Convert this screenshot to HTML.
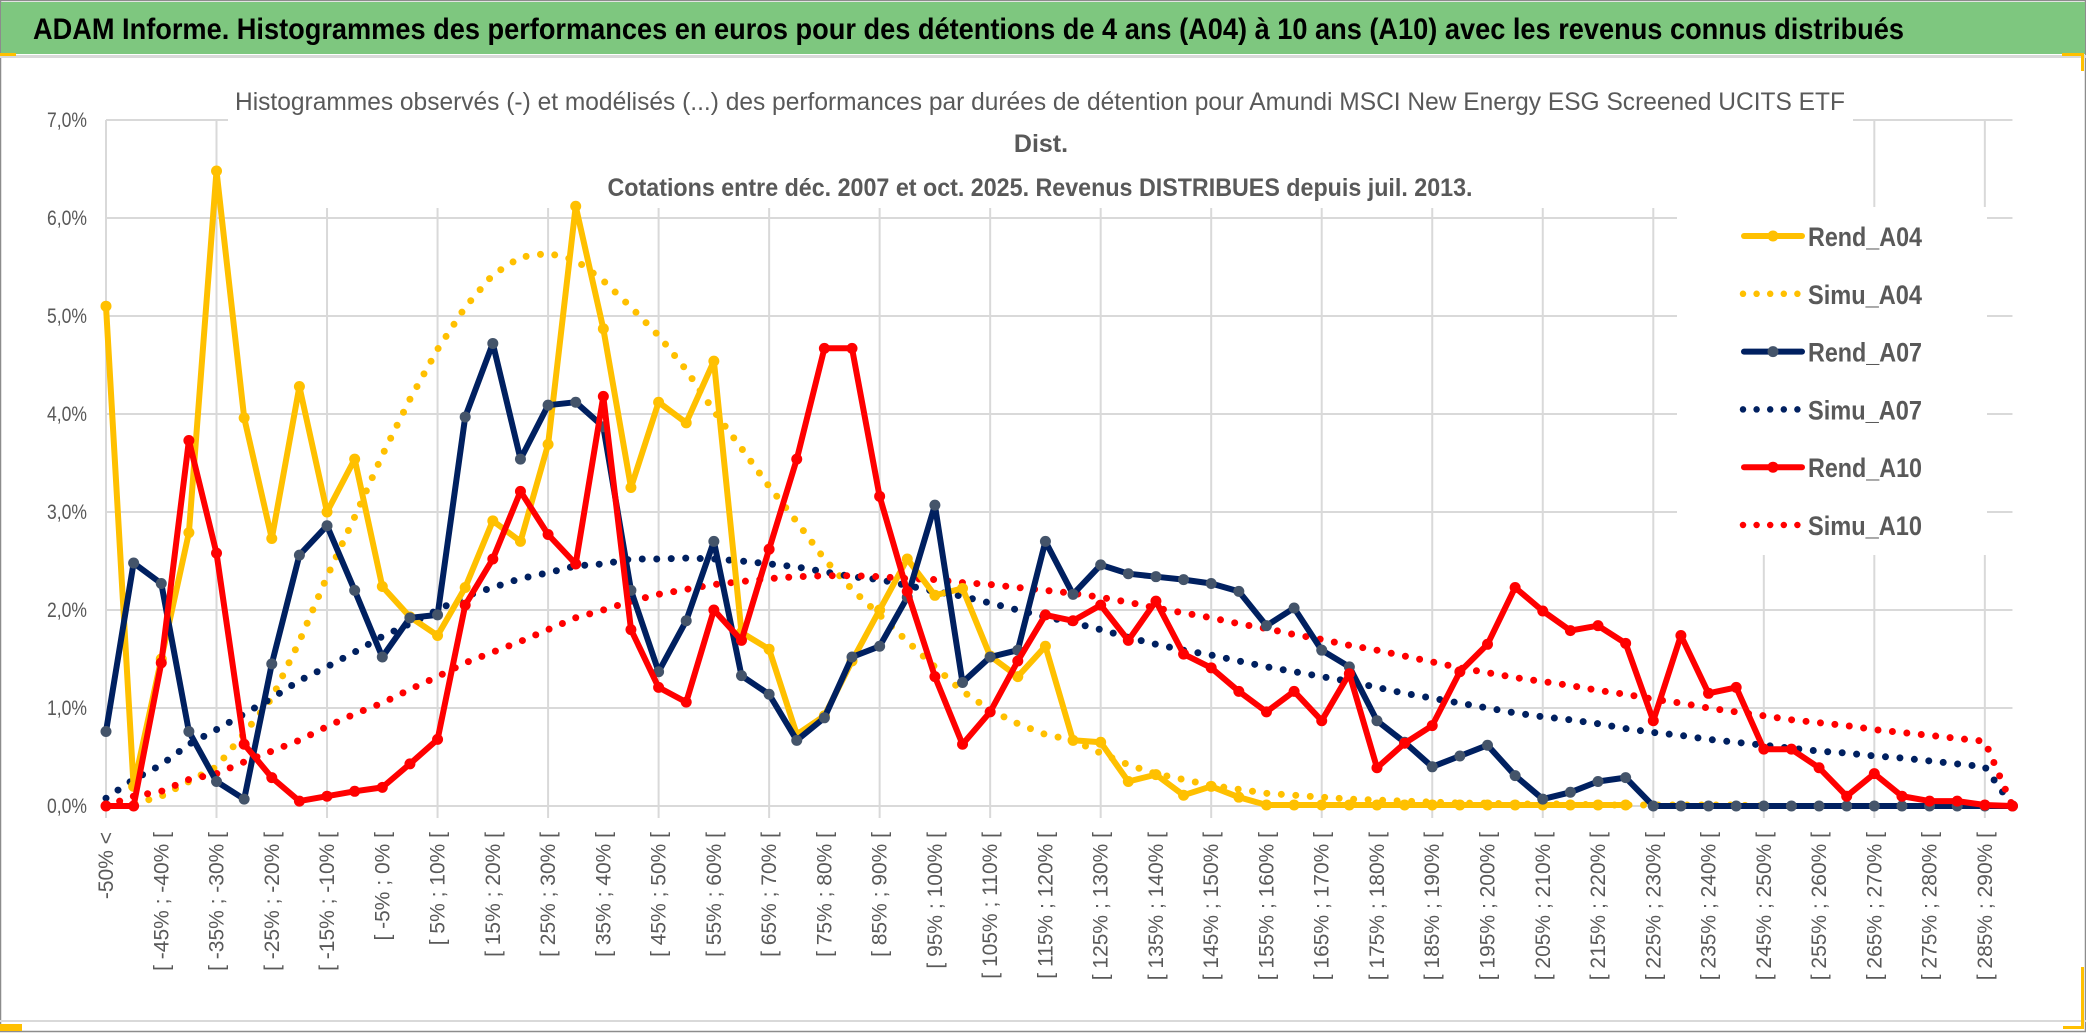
<!DOCTYPE html>
<html><head><meta charset="utf-8"><style>
html,body{margin:0;padding:0;background:#fff;}
svg{display:block;}
text{font-family:"Liberation Sans",sans-serif;}
</style></head><body>
<svg id="chart" width="2086" height="1033" viewBox="0 0 2086 1033" xmlns="http://www.w3.org/2000/svg">
  <rect x="0" y="0" width="2086" height="1033" fill="#ffffff"/>
  <rect x="0.5" y="0.5" width="2085" height="1031" fill="none" stroke="#8c8c8c" stroke-width="1.5"/>
  <rect x="1" y="2" width="2084" height="52" fill="#7ec77f"/>
  <text x="33" y="39" font-size="30" font-weight="bold" fill="#000" textLength="1871" lengthAdjust="spacingAndGlyphs">ADAM Informe. Histogrammes des performances en euros pour des détentions de 4 ans (A04) à 10 ans (A10) avec les revenus connus distribués</text>
  <rect x="0" y="55" width="2086" height="3" fill="#d9d9d9"/>
  <rect x="0" y="53" width="16" height="3" fill="#ffc000"/>
  <rect x="2062" y="53" width="22" height="3" fill="#ffc000"/>
  <rect x="2081" y="53" width="3" height="18" fill="#ffc000"/>
  <rect x="0" y="1020" width="2086" height="2" fill="#d9d9d9"/>
  <rect x="0" y="1024" width="22" height="7" fill="#ffc000"/>
  <rect x="2081" y="967" width="3" height="62" fill="#ffc000"/>
  <rect x="2063" y="1026" width="21" height="3" fill="#ffc000"/>
  <g id="grid"></g>
  <rect x="228" y="60" width="1625" height="148" fill="#ffffff"/>
  <rect x="1677" y="207" width="310" height="348" fill="#ffffff"/>
  <text x="1040" y="110" font-size="25" fill="#595959" text-anchor="middle" textLength="1610" lengthAdjust="spacingAndGlyphs">Histogrammes observés (-) et modélisés (...) des performances par durées de détention pour Amundi MSCI New Energy ESG Screened UCITS ETF</text>
  <text x="1041" y="152" font-size="25" fill="#595959" text-anchor="middle" font-weight="bold">Dist.</text>
  <text x="1040" y="196" font-size="25" fill="#595959" text-anchor="middle" font-weight="bold" textLength="865" lengthAdjust="spacingAndGlyphs">Cotations entre déc. 2007 et oct. 2025. Revenus DISTRIBUES depuis juil. 2013.</text>
  <g id="yaxis"></g>
  <g id="xaxis"></g>
  <g id="series"></g>
  <g id="legend"></g>
</svg>
<script>
const yTicks = [0,1,2,3,4,5,6,7];
const yTickLabels = ["0,0%","1,0%","2,0%","3,0%","4,0%","5,0%","6,0%","7,0%"];
const categories = ["-50% <"];
for (let k = 1; k < 70; k++) { categories.push("[ " + (-55 + 5*k) + "% ; " + (-50 + 5*k) + "% ["); }

const rendA04 = [5.10,0.20,1.50,2.79,6.48,3.96,2.73,4.28,3.00,3.54,2.24,1.93,1.74,2.23,2.91,2.70,3.69,6.12,
 4.87,3.25,4.12,3.91,4.54,1.77,1.60,0.73,0.92,1.48,2.00,2.52,2.15,2.22,1.53,1.32,1.63,0.67,
 0.65,0.25,0.32,0.11,0.20,0.09,0.01,0.01,0.01,0.01,0.01,0.01,0.01,0.01,0.01,0.01,0.01,0.01,0.01,0.01];
const simuA04 = [0.00,0.02,0.10,0.25,0.40,0.74,1.10,1.68,2.34,2.95,3.58,4.15,4.66,5.09,5.42,5.60,5.64,5.57,
 5.36,5.09,4.80,4.45,4.03,3.65,3.26,2.90,2.52,2.21,1.95,1.68,1.42,1.17,0.98,0.84,0.73,0.67,
 0.54,0.42,0.33,0.27,0.21,0.17,0.13,0.11,0.09,0.07,0.06,0.05,0.04,0.03,0.03,0.02,0.02,0.02,0.01,0.01,0.01,0.01,0.01,0.01,0.00];
const rendA07 = [0.76,2.48,2.27,0.76,0.25,0.07,1.45,2.56,2.86,2.20,1.52,1.92,1.95,3.97,4.72,3.54,4.09,4.12,
 3.87,2.20,1.37,1.89,2.70,1.33,1.14,0.67,0.90,1.52,1.63,2.13,3.07,1.26,1.52,1.59,2.70,2.16,
 2.46,2.37,2.34,2.31,2.27,2.19,1.84,2.02,1.59,1.42,0.87,0.65,0.40,0.51,0.62,0.31,0.07,0.14,0.25,0.29,
 0,0,0,0,0,0,0,0,0,0,0,0,0,0];
const simuA07 = [0.08,0.27,0.42,0.63,0.78,0.94,1.10,1.28,1.42,1.57,1.73,1.86,2.00,2.14,2.23,2.32,2.38,2.45,
 2.47,2.52,2.52,2.53,2.52,2.50,2.47,2.44,2.39,2.34,2.31,2.25,2.19,2.14,2.07,2.00,1.93,1.87,
 1.80,1.72,1.65,1.59,1.54,1.48,1.42,1.37,1.32,1.27,1.21,1.15,1.10,1.05,1.00,0.95,0.91,0.88,0.84,0.79,
 0.75,0.72,0.68,0.65,0.62,0.59,0.56,0.54,0.51,0.49,0.46,0.43,0.40,0.00];
const rendA10 = [0,0,1.46,3.73,2.58,0.63,0.29,0.05,0.10,0.15,0.19,0.43,0.68,2.05,2.52,3.21,2.77,2.47,
 4.18,1.80,1.21,1.06,2.00,1.69,2.62,3.54,4.67,4.67,3.16,2.19,1.32,0.63,0.96,1.48,1.95,1.89,
 2.05,1.69,2.09,1.55,1.41,1.17,0.96,1.17,0.87,1.35,0.39,0.64,0.82,1.37,1.65,2.23,1.99,1.79,1.84,1.66,
 0.87,1.74,1.15,1.21,0.58,0.58,0.39,0.10,0.33,0.10,0.05,0.05,0.01,0.00];
const simuA10 = [0.00,0.10,0.15,0.27,0.33,0.45,0.56,0.67,0.81,0.94,1.05,1.19,1.32,1.46,1.57,1.68,1.80,1.92,
 2.00,2.09,2.16,2.21,2.26,2.29,2.32,2.34,2.35,2.35,2.34,2.32,2.31,2.28,2.26,2.23,2.20,2.17,
 2.13,2.08,2.02,1.97,1.92,1.86,1.81,1.75,1.70,1.64,1.59,1.53,1.47,1.41,1.36,1.31,1.27,1.23,1.18,1.14,
 1.09,1.05,1.00,0.96,0.92,0.88,0.85,0.82,0.78,0.75,0.72,0.69,0.66,0.00];

const NS = "http://www.w3.org/2000/svg";
const X0 = 106, STEP = 27.63, Y0 = 806, YPER = 98;
function xPos(k){ return X0 + STEP*k; }
function yPos(v){ return Y0 - YPER*v; }
function mk(tag, attrs, parent){ const e=document.createElementNS(NS,tag); for(const a in attrs) e.setAttribute(a,attrs[a]); parent.appendChild(e); return e; }

const grid = document.getElementById('grid');
yTicks.forEach(function(t){
  const l = mk('line',{x1:xPos(0),x2:xPos(69),y1:yPos(t),y2:yPos(t),stroke:'#d9d9d9','stroke-width':2},grid);
  
  
});
for (let k=0;k<=68;k+=4){
  const l = mk('line',{x1:xPos(k),x2:xPos(k),y1:yPos(7),y2:Y0+12,stroke:'#d9d9d9','stroke-width':2},grid);
  
  
}
const yaxis = document.getElementById('yaxis');
yTicks.forEach(function(t,i){
  const tx = mk('text',{x:87,y:yPos(t)+7,'font-size':21,fill:'#595959','text-anchor':'end',textLength:40,lengthAdjust:'spacingAndGlyphs'},yaxis);
  tx.textContent = yTickLabels[i];
  
  
});
const xaxis = document.getElementById('xaxis');
categories.forEach(function(c,k){
  if (k%2) return;
  const x = xPos(k)+7, y = 832;
  const tx = mk('text',{x:x,y:y,'font-size':21,fill:'#595959','text-anchor':'end',transform:'rotate(-90 '+x+' '+y+')'},xaxis);
  tx.textContent = c;
  
  
});

const series = document.getElementById('series');
function pts(arr){ return arr.map(function(v,k){ return xPos(k).toFixed(1)+','+yPos(v).toFixed(1); }).join(' '); }
function dotted(arr,color,name){
  const p = mk('polyline',{points:pts(arr),fill:'none',stroke:color,'stroke-width':7,'stroke-linecap':'round','stroke-dasharray':'0 14.5'},series);
  
  
}
function solid(arr,color,mcolor,name){
  const g = mk('g',{},series);
  
  
  mk('polyline',{points:pts(arr),fill:'none',stroke:color,'stroke-width':6,'stroke-linejoin':'round','stroke-linecap':'round'},g);
  arr.forEach(function(v,k){
    const c = mk('circle',{cx:xPos(k),cy:yPos(v),r:5.5,fill:mcolor},g);
    
    
  });
}
dotted(simuA04,'#ffc000','simu-a04-line');
dotted(simuA07,'#002060','simu-a07-line');
dotted(simuA10,'#ff0000','simu-a10-line');
solid(rendA04,'#ffc000','#ffc000','rend-a04-line');
solid(rendA07,'#002060','#44546a','rend-a07-line');
solid(rendA10,'#ff0000','#ff0000','rend-a10-line');

const legend = document.getElementById('legend');
const legNames = ["Rend_A04","Simu_A04","Rend_A07","Simu_A07","Rend_A10","Simu_A10"];
const legColors = ["#ffc000","#ffc000","#002060","#002060","#ff0000","#ff0000"];
const legMarker = ["#ffc000","","#44546a","","#ff0000",""];
legNames.forEach(function(n,i){
  const y = 236 + i*57.8;
  const g = mk('g',{},legend);
  
  
  if (legMarker[i]) {
    mk('line',{x1:1744,x2:1802,y1:y,y2:y,stroke:legColors[i],'stroke-width':6,'stroke-linecap':'round'},g);
    mk('circle',{cx:1773,cy:y,r:5.5,fill:legMarker[i]},g);
  } else {
    mk('line',{x1:1743,x2:1805,y1:y,y2:y,stroke:legColors[i],'stroke-width':6.5,'stroke-linecap':'round','stroke-dasharray':'0 13.6'},g);
  }
  const t = mk('text',{x:1808,y:y+10,'font-size':27,'font-weight':'bold',fill:'#595959',textLength:114,lengthAdjust:'spacingAndGlyphs'},g);
  t.textContent = n;
});
</script>
</body></html>
